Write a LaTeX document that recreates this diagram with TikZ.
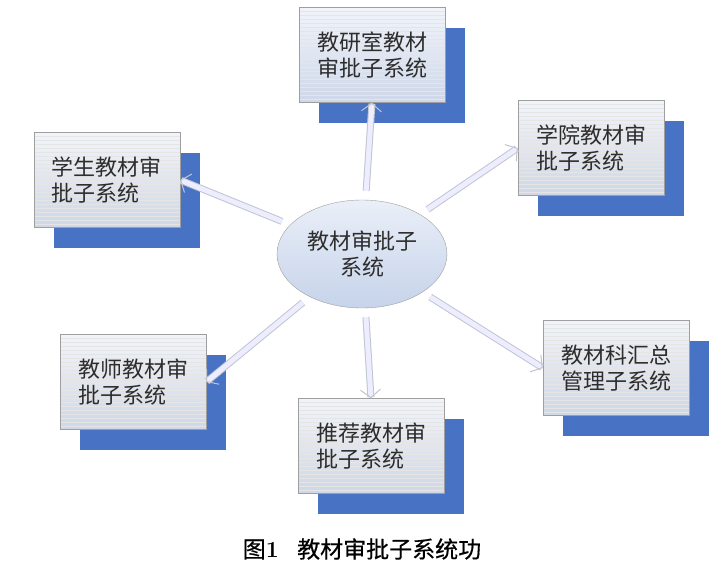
\documentclass[tikz,border=0pt]{standalone}
\usepackage{fontspec}
\newfontfamily\cjk{Noto Sans CJK SC}
\newfontfamily\cjkcap[FakeBold=0.5]{Noto Sans CJK SC}
\usetikzlibrary{shapes.geometric,shadows,arrows.meta}
\definecolor{backblue}{RGB}{72,114,196}
\definecolor{boxtop}{RGB}{241,244,250}
\definecolor{boxbot}{RGB}{206,215,232}
\definecolor{ovaltop}{RGB}{234,239,248}
\definecolor{ovalbot}{RGB}{198,211,234}
\definecolor{linkgray}{RGB}{192,198,208}
\definecolor{txtgray}{RGB}{45,45,45}
\tikzset{
  subbox/.style={draw=gray!75, top color=boxtop, bottom color=boxbot,
    minimum width=146pt, minimum height=95pt, align=left, text=txtgray,
    font=\cjk\fontsize{22}{26}\selectfont,
    general shadow={fill=backblue, shadow xshift=20pt, shadow yshift=-20pt},
    path picture={\foreach \k in {1,...,24}
      \draw[white!80!gray, line width=0.3pt]
        ([yshift=-4pt*\k]path picture bounding box.north west) --
        ([yshift=-4pt*\k]path picture bounding box.north east);}},
  hub/.style={ellipse, draw=gray!75, top color=ovaltop, bottom color=ovalbot,
    minimum width=170pt, minimum height=108pt, align=center, text=txtgray,
    font=\cjk\fontsize{22}{26}\selectfont},
  link/.style={draw=linkgray, double=white!93!blue, double distance=5pt,
    line width=1pt, shorten <=9pt, -{Straight Barb[length=8pt,width=20pt]}}
}
\begin{document}
\begin{tikzpicture}[x=1pt,y=-1pt]
  \useasboundingbox[fill=white] (0,0) rectangle (724,576);
  \node[subbox] (tbox) at (372,55)  {教研室教材\\审批子系统};
  \node[subbox] (sbox) at (107,180) {学生教材审\\批子系统};
  \node[subbox] (cbox) at (591,148) {学院教材审\\批子系统};
  \node[subbox] (jbox) at (133,382) {教师教材审\\批子系统};
  \node[subbox] (rbox) at (371,446) {推荐教材审\\批子系统};
  \node[subbox] (hbox) at (616,368) {教材科汇总\\管理子系统};
  \node[hub] (sys) at (362,254) {教材审批子\\系统};
  \draw[link] (sys) -- (tbox.south);
  \draw[link] (sys) -- (sbox.east);
  \draw[link] (sys) -- (cbox.west);
  \draw[link] (sys) -- (jbox.east);
  \draw[link] (sys) -- (rbox.north);
  \draw[link] (sys) -- (hbox.west);
  \node[font=\cjkcap\fontsize{23}{27}\selectfont] (cap) at (362,549)
    {图{\rmfamily\bfseries 1}\hspace{0.8em}教材审批子系统功};
\end{tikzpicture}
\end{document}
